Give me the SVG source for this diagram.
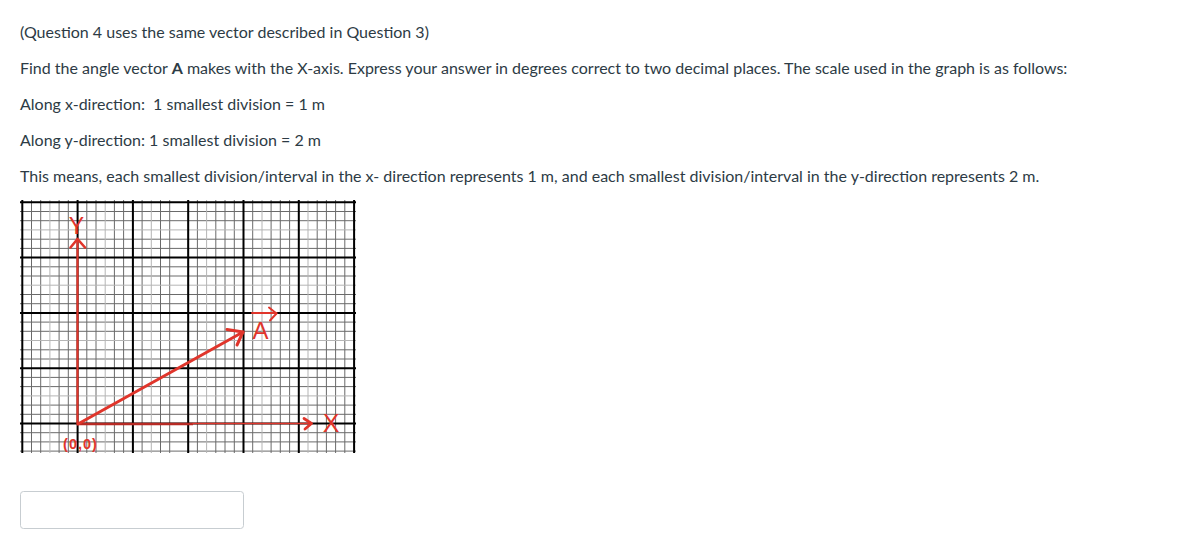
<svg xmlns="http://www.w3.org/2000/svg" width="1183" height="545" viewBox="0 0 1183 545">
<style>
.t{font-family:Lato,"Noto Sans",sans-serif;font-size:16px;fill:#2d3b45;white-space:pre}
.mj{stroke:#000;stroke-width:2;fill:none}
.mn{stroke:#6a6a6a;stroke-width:1;fill:none}
.ml{stroke:#b5b5b5;stroke-width:1;fill:none}
.red{stroke:#e0352b;fill:none;stroke-linecap:round;stroke-linejoin:round}
.hand{font-family:"Liberation Sans",Arial,sans-serif;fill:#e0352b}
</style>
<rect width="1183" height="545" fill="#fff"/>
<g id="text">
<text class="t" x="20" y="38">(Question 4 uses the same vector described in Question 3)</text>
<text class="t" x="20" y="74">Find the angle vector <tspan font-weight="bold">A</tspan> makes with the X-axis. Express your answer in degrees correct to two decimal places. The scale used in the graph is as follows:</text>
<text class="t" x="20" y="110">Along x-direction:  1 smallest division = 1 m</text>
<text class="t" x="20" y="146">Along y-direction: 1 smallest division = 2 m</text>
<text class="t" x="20" y="182">This means, each smallest division/interval in the x- direction represents 1 m, and each smallest division/interval in the y-direction represents 2 m.</text>
</g>
<g id="grid">
<!-- minor vertical lines -->
<g class="mn">
<path d="M31.5 200V453M40.7 200V453M59.1 200V453M68.3 200V453M86.8 200V453M96 200V453M114.4 200V453M123.6 200V453M142.1 200V453M160.5 200V453M169.7 200V453M188.2 200V453M197.4 200V453M215.8 200V453M225 200V453M234.3 200V453M252.7 200V453M271.1 200V453M280.3 200V453M289.6 200V453M317.2 200V453M326.4 200V453M335.6 200V453M344.8 200V453"/>
<path d="M20 211.5H356M20 220.7H356M20 239.2H356M20 248.4H356M20 266.8H356M20 276H356M20 294.5H356M20 303.7H356M20 322.1H356M20 331.3H356M20 349.8H356M20 359H356M20 377.4H356M20 386.6H356M20 405.1H356M20 414.3H356M20 432.7H356M20 441.9H356M20 451.1H356"/>
</g>
<g class="ml">
<path d="M49.9 200V453M105.2 200V453M132.9 200V453M151.3 200V453M206.6 200V453M262 200V453M308 200V453"/>
<path d="M20 229.9H356M20 285.2H356M20 340.5H356M20 395.9H356"/>
</g>
<g class="mj">
<path d="M22.3 200V453M77.6 200V453M132.9 200V453M188.2 200V453M243.5 200V453M298.8 200V453M354.1 200V453"/>
<path d="M20 202.3H356M20 257.6H356M20 312.9H356M20 368.2H356M20 423.5H356"/>
</g>
</g>
<g id="connectors">
<path class="red" stroke-width="2.2" d="M77.5 424V239"/>
<path class="red" stroke-width="2.6" d="M70.5 247.5L77.5 239L85 247.5"/>
<path stroke="#b82a24" stroke-width="2.4" fill="none" d="M77.5 424H193"/>
<path class="red" stroke-width="1.6" d="M193 423.5H311"/>
<path class="red" stroke-width="2.8" d="M304 418.5L311.5 423.5L305 429"/>
<path class="red" stroke-width="3" d="M78 424L243 332"/>
<path class="red" stroke-width="3" d="M227 329.5L243 332L237 345"/>
<path class="red" stroke-width="2" d="M252 313H276.5"/>
<path class="red" stroke-width="2" d="M269 307.5L276.5 313.5L270 320.5"/>
</g>
<g id="labels">
<text class="hand" x="76.5" y="233.5" font-size="23" text-anchor="middle" font-weight="normal">Y</text>
<text class="hand" x="260.5" y="338.5" font-size="24" text-anchor="middle">A</text>
<text class="hand" x="331" y="432" font-size="25" text-anchor="middle">X</text>
<text class="hand" x="80.5" y="449" font-size="14.5" font-weight="bold" text-anchor="middle" letter-spacing="1" fill="#e04a42">(0,0)</text>
</g>
<g id="answer">
<rect x="20.5" y="491.5" width="223" height="37" rx="3" fill="#fff" stroke="#c7cdd1"/>
</g>
</svg>
